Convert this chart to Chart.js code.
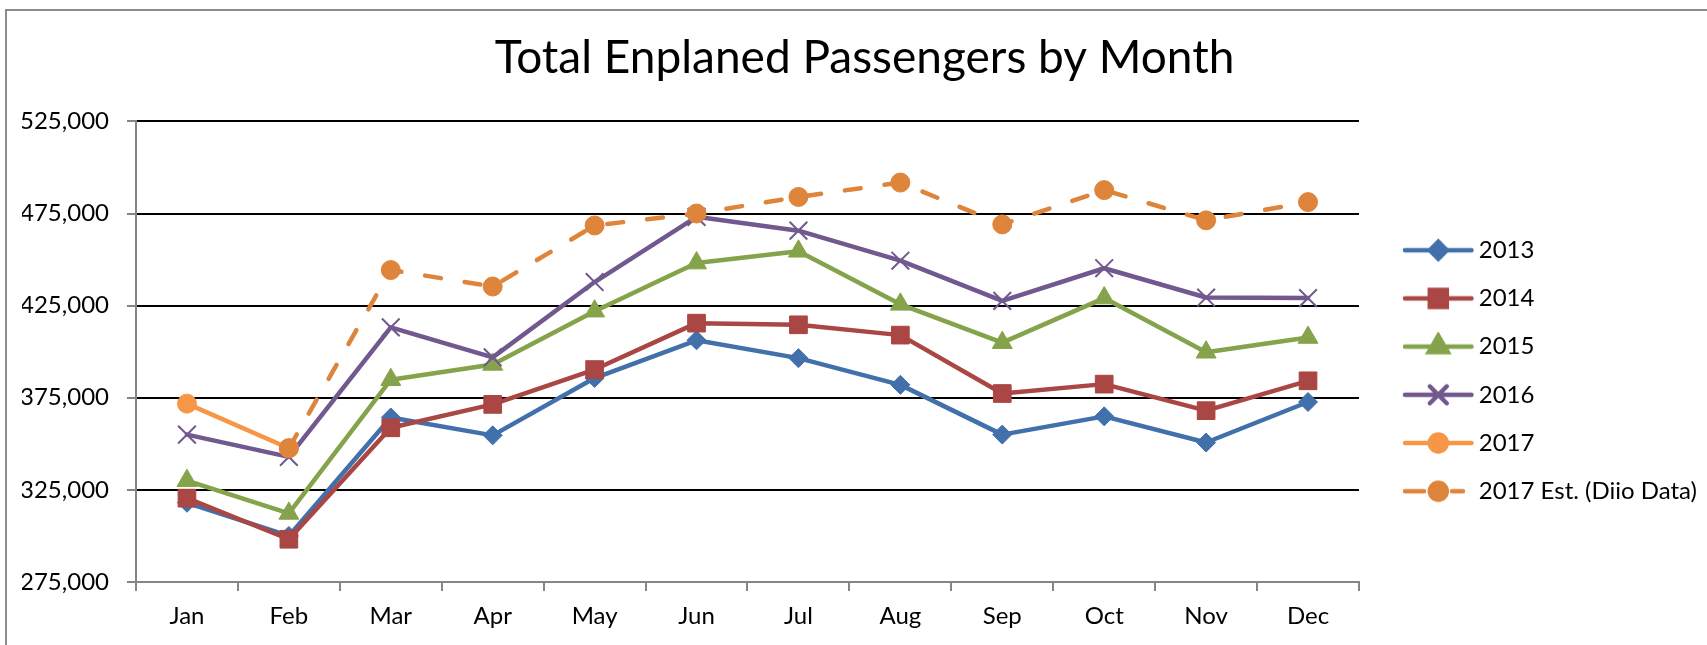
<!DOCTYPE html>
<html>
<head>
<meta charset="utf-8">
<title>Total Enplaned Passengers by Month</title>
<script src="https://cdn.jsdelivr.net/npm/chart.js"></script>
<style>
  html, body { margin: 0; padding: 0; background: #fff; }
  #wrap { position: relative; width: 1707px; height: 645px; }
</style>
</head>
<body>
<div id="wrap"><canvas id="chart" width="1707" height="645"></canvas></div>
<script>
// === Data ===
const months = ["Jan", "Feb", "Mar", "Apr", "May", "Jun", "Jul", "Aug", "Sep", "Oct", "Nov", "Dec"];
const yTicks = [275000, 325000, 375000, 425000, 475000, 525000];

const pax2013 = [318000, 300000, 364300, 354600, 385700, 406200, 396500, 382000, 355000, 364900, 350700, 372700];
const pax2014 = [320500, 298200, 358700, 371400, 390300, 415500, 414600, 409000, 377300, 382400, 368000, 384200];
const pax2015 = [330000, 312200, 384800, 393100, 422000, 448100, 454500, 425700, 404900, 429100, 399700, 407700];
const pax2016 = [355000, 342900, 413200, 396900, 437800, 473200, 465700, 449400, 427600, 445300, 429400, 429100];
const pax2017 = [371800, 347600, null, null, null, null, null, null, null, null, null, null];
const pax2017Est = [null, 347600, 444300, 435400, 468500, 475000, 484000, 491800, 469100, 487700, 471300, 481200];

const FONT = "Lato, 'Liberation Sans', sans-serif";
const AXIS_GREY = "#868686";
const LEFT_PAD = 22;   // shifts the centred title a bit to the right

// series look: colour, marker, marker radius
const seriesStyles = [
    { label: "2013", data: pax2013, color: "#4170aa", marker: "rectRot", r: 9.5 },
    { label: "2014", data: pax2014, color: "#aa4643", marker: "rect", r: 12.5 },
    { label: "2015", data: pax2015, color: "#84a34a", marker: "triangle", r: 11.5 },
    { label: "2016", data: pax2016, color: "#71588f", marker: "crossRot", r: 12.5 },
    { label: "2017", data: pax2017, color: "#f79646", marker: "circle", r: 9.5 },
    { label: "2017 Est. (Diio Data)", data: pax2017Est, color: "#de843b", marker: "circle", r: 9.5, dashed: true }
];

// === Legend icons: line with marker in the middle ===
function makeLegendIcon(s) {
    const c = document.createElement("canvas");
    c.width = 100;
    c.height = 30;
    const g = c.getContext("2d");
    const x0 = 30, x1 = 96.5, mid = 63.3, y = 15;
    g.strokeStyle = s.color;
    g.fillStyle = s.color;
    g.lineWidth = 4.5;
    g.lineCap = "round";
    g.beginPath();
    if (s.dashed) {
        g.moveTo(x0, y); g.lineTo(x0 + 19, y);
        g.moveTo(x0 + 47, y); g.lineTo(x0 + 58, y);
    } else {
        g.moveTo(x0, y); g.lineTo(x1, y);
    }
    g.stroke();
    const opts = {
        pointStyle: s.marker,
        radius: s.marker === "rectRot" ? 8.5 : (s.marker === "circle" ? 8.5 : s.r - 0.5),
        borderWidth: s.marker === "crossRot" ? 2 : 1,
        rotation: 0
    };
    if (Chart.helpers && Chart.helpers.drawPoint) {
        Chart.helpers.drawPoint(g, opts, mid, y);
    } else {
        g.beginPath();
        g.arc(mid, y, 8, 0, Math.PI * 2);
        g.fill();
    }
    return c;
}

const legendIcons = seriesStyles.map(makeLegendIcon);

const datasets = seriesStyles.map((s, i) => ({
    label: s.label,
    data: s.data,
    borderColor: s.color,
    backgroundColor: s.color,
    borderWidth: 4.5,
    borderCapStyle: "round",
    borderJoinStyle: "round",
    borderDash: s.dashed ? [16, 24] : [],
    tension: 0,
    spanGaps: false,
    pointStyle: s.marker,
    pointRadius: s.r,
    pointHoverRadius: s.r,
    pointBackgroundColor: s.color,
    pointBorderColor: s.color,
    pointBorderWidth: s.marker === "crossRot" ? 2 : 1,
    order: seriesStyles.length - i   // later series drawn on top, like the original
}));

// frame round the chart (grey, open to the right and bottom)
const framePlugin = {
    id: "frame",
    beforeDraw(chart) {
        const ctx = chart.ctx;
        ctx.save();
        ctx.fillStyle = "#fff";
        ctx.fillRect(0, 0, chart.width, chart.height);
        ctx.strokeStyle = "#8c8c8c";
        ctx.lineWidth = 2;
        ctx.beginPath();
        ctx.moveTo(6, chart.height);
        ctx.lineTo(6, 10);
        ctx.lineTo(chart.width, 10);
        ctx.stroke();
        ctx.restore();
    }
};

Chart.defaults.color = "#000";
Chart.defaults.font.family = FONT;

new Chart(document.getElementById("chart"), {
    type: "line",
    data: { labels: months, datasets: datasets },
    plugins: [framePlugin],
    options: {
        responsive: false,
        animation: false,
        layout: { padding: { top: 0, left: LEFT_PAD, right: 0, bottom: 3.6 } },
        plugins: {
            title: {
                display: true,
                text: "Total Enplaned Passengers by Month",
                color: "#000",
                font: { family: FONT, size: 46, weight: "normal" },
                padding: { top: 30.4, bottom: 35.8 }
            },
            legend: {
                position: "right",
                fullSize: false,
                align: "center",
                title: { display: true, text: "", font: { size: 10 }, padding: 13 },
                labels: {
                    usePointStyle: true,
                    pointStyleWidth: 83.6,
                    padding: 24.2,
                    color: "#000",
                    font: { family: FONT, size: 24 },
                    generateLabels: (chart) => chart.data.datasets.map((ds, i) => ({
                        text: ds.label,
                        pointStyle: legendIcons[i],
                        fillStyle: "rgba(0,0,0,0)",
                        strokeStyle: "rgba(0,0,0,0)",
                        lineWidth: 0,
                        hidden: false,
                        datasetIndex: i
                    }))
                }
            },
            tooltip: { enabled: false }
        },
        scales: {
            x: {
                offset: true,
                grid: {
                    offset: true,
                    drawOnChartArea: false,
                    color: AXIS_GREY,
                    lineWidth: 2,
                    tickLength: 9
                },
                border: { color: AXIS_GREY, width: 2 },
                ticks: {
                    font: { family: FONT, size: 24 },
                    color: "#000",
                    padding: 10.8,
                    autoSkip: false,
                    maxRotation: 0
                }
            },
            y: {
                min: yTicks[0],
                max: yTicks[yTicks.length - 1],
                afterBuildTicks: (scale) => { scale.ticks = yTicks.map(v => ({ value: v })); },
                afterFit: (scale) => { scale.width = 136 - LEFT_PAD; },
                grid: {
                    color: (ctx) => (ctx.tick && ctx.tick.value === yTicks[0]) ? AXIS_GREY : "#000",
                    tickColor: AXIS_GREY,
                    lineWidth: 2,
                    tickLength: 9
                },
                border: { color: AXIS_GREY, width: 2 },
                ticks: {
                    font: { family: FONT, size: 24 },
                    color: "#000",
                    padding: 18,
                    callback: (v) => Number(v).toLocaleString("en-US")
                }
            }
        }
    }
});
</script>
</body>
</html>
